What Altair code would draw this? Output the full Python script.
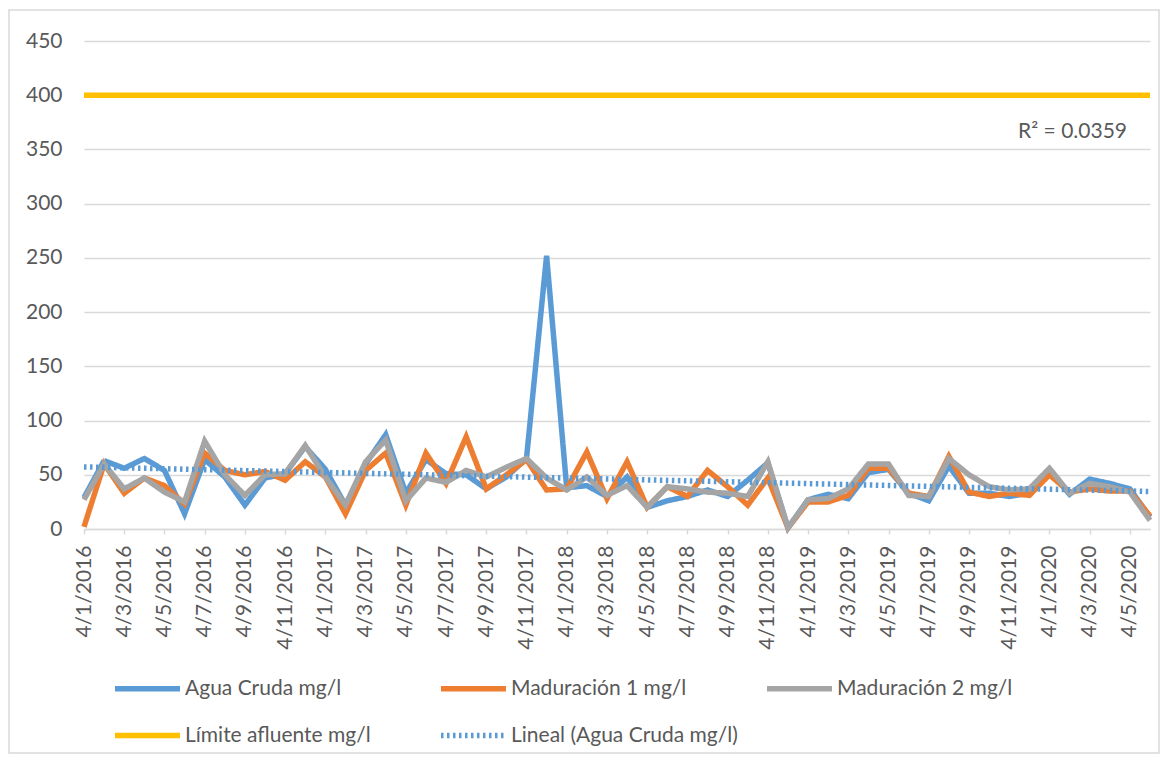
import json
import altair as alt
import pandas as pd

FONT = "Lato"
TXT = "#595959"

# dates are 4th of each month, Jan 2016 .. Jun 2020 (day/month/year)
fechas = [f"4/{m}/{y}" for y in range(2016, 2021) for m in range(1, 13)][:54]

agua = [29, 63, 56, 65, 54, 14, 64, 48, 22, 47, 51, 76, 55, 22, 60, 87, 33, 64,
        51, 50, 37, 48, 65, 252, 38, 40, 30, 48, 20, 26, 30, 36, 30, 45, 61, 1,
        27, 32, 28, 52, 55, 33, 26, 58, 33, 33, 30, 33, 54, 32, 46, 42, 37, 11]
mad1 = [2, 60, 33, 47, 40, 23, 70, 54, 50, 53, 45, 62, 48, 14, 54, 70, 22, 70,
        42, 85, 37, 50, 64, 36, 37, 71, 28, 62, 20, 39, 30, 54, 39, 22, 47, 1,
        25, 25, 31, 56, 56, 33, 30, 67, 34, 30, 33, 31, 50, 34, 37, 35, 35, 12]
mad2 = [27, 60, 37, 47, 34, 25, 81, 50, 31, 50, 51, 77, 48, 22, 62, 82, 26, 47,
        43, 54, 48, 57, 65, 47, 36, 48, 31, 40, 20, 39, 37, 34, 33, 30, 62, 1,
        27, 28, 37, 60, 60, 31, 30, 65, 50, 39, 36, 37, 56, 33, 42, 39, 34, 8]
limite = [400] * 54

AGUA, MAD1, MAD2, LIM, LIN = ("Agua Cruda mg/l", "Maduración 1 mg/l", "Maduración 2 mg/l",
                              "Límite afluente mg/l", "Lineal (Agua Cruda mg/l)")
# legend fills column by column (2 rows): order chosen so rows read like the reference
series_names = [AGUA, LIM, MAD1, LIN, MAD2]
series_colors = ["#5B9BD5", "#FFC000", "#ED7D31", "#5B9BD5", "#A5A5A5"]
series_dash = [[1, 0], [1, 0], [1, 0], [2.5, 3.5], [1, 0]]
series_width = [5.5, 5.5, 5.5, 2.5, 5.5]
r2_label = "R² = 0.0359"

rows = []
for name, vals in zip([AGUA, MAD1, MAD2, LIM], [agua, mad1, mad2, limite]):
    for i, v in enumerate(vals):
        rows.append({"i": i, "fecha": fechas[i], "series": name, "value": v})
df = pd.DataFrame(rows)

label_expr = json.dumps(fechas, ensure_ascii=False) + "[datum.value]"

x_enc = alt.X(
    "i:Q",
    scale=alt.Scale(domain=[0, 53], nice=False, zero=False),
    axis=alt.Axis(
        title=None, values=list(range(0, 54, 2)), labelExpr=label_expr,
        labelAngle=270, grid=False, domainColor="#D9D9D9", domainWidth=1.5,
        tickColor="#D9D9D9", tickWidth=1.5, tickSize=5, labelPadding=11,
        labelFontSize=21, labelColor=TXT, labelFont=FONT,
    ),
)
y_enc = alt.Y(
    "value:Q",
    scale=alt.Scale(domain=[0, 450], nice=False),
    axis=alt.Axis(
        title=None, values=list(range(0, 451, 50)), grid=True,
        gridColor="#D9D9D9", gridWidth=1.5, domain=False, ticks=False,
        labelPadding=22, labelFontSize=21, labelColor=TXT, labelFont=FONT,
    ),
)
legend = alt.Legend(
    title=None, orient="none", legendX=28, legendY=612, columns=3,
    symbolType="stroke", symbolSize=4225, labelFontSize=21, labelColor=TXT,
    labelFont=FONT, labelOffset=2, columnPadding=18, rowPadding=-24,
    gridAlign="all", padding=0, labelLimit=500,
)
color_enc = alt.Color("series:N", scale=alt.Scale(domain=series_names, range=series_colors), legend=legend)
dash_enc = alt.StrokeDash("series:N", scale=alt.Scale(domain=series_names, range=series_dash), legend=legend)
width_enc = alt.StrokeWidth("series:N", scale=alt.Scale(domain=series_names, range=series_width), legend=legend)

base = alt.Chart(df)


def line_layer(name):
    return base.transform_filter(alt.datum.series == name).mark_line().encode(
        x=x_enc, y=y_enc, color=color_enc, strokeDash=dash_enc, strokeWidth=width_enc
    )


trend = (
    base.transform_filter(alt.datum.series == AGUA)
    .transform_regression("i", "value")
    .transform_calculate(series="'" + LIN + "'")
    .mark_line()
    .encode(x=x_enc, y=y_enc, color=color_enc, strokeDash=dash_enc, strokeWidth=width_enc)
)

r2 = alt.Chart(pd.DataFrame({"t": [r2_label]})).mark_text(
    align="right", baseline="middle", fontSize=21, color=TXT, font=FONT
).encode(x=alt.value(1043), y=alt.value(91), text="t:N")

border = alt.Chart(pd.DataFrame({"a": [0]})).mark_rect(
    fillOpacity=0, stroke="#D9D9D9", strokeWidth=1.5, clip=False
).encode(x=alt.value(-75), x2=alt.value(1075), y=alt.value(-31), y2=alt.value(712))

chart = (
    alt.layer(
        border,
        line_layer(LIM),
        line_layer(AGUA),
        line_layer(MAD1),
        line_layer(MAD2),
        trend,
        r2,
    )
    .properties(
        width=1066, height=488,
        autosize=alt.AutoSizeParams(type="none"),
        padding={"left": 76, "top": 33, "right": 10, "bottom": 225},
    )
    .configure(font=FONT, background="white")
    .configure_view(strokeWidth=0)
)

chart.save("out.html", embed_options={"renderer": "svg", "actions": False})
